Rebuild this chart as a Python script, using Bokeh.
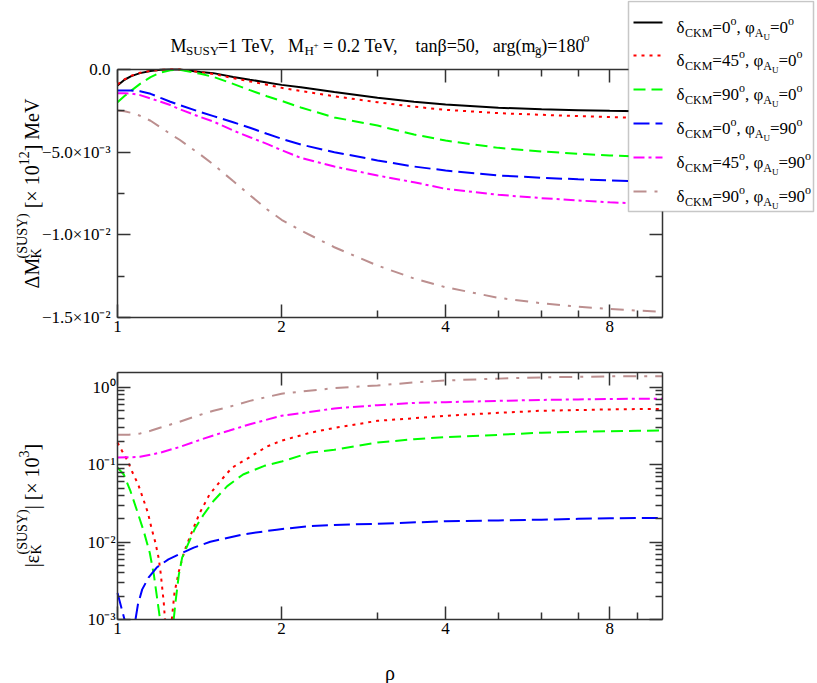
import math
from bokeh.plotting import figure
from bokeh.layouts import column
from bokeh.models import (Range1d, FixedTicker, LinearAxis, LogAxis, Label,
                          BoxAnnotation, Arrow, CustomJSTickFormatter)
from bokeh.embed import file_html
from bokeh.resources import INLINE

NAN = float("nan")

# ---------------- data ----------------
RHO_TOP = [1.0, 1.03, 1.06, 1.1, 1.15, 1.2, 1.25, 1.3, 1.42, 1.5, 1.63, 1.75, 1.88,
           2.0, 2.17, 2.5, 3.0, 3.5, 4.0, 5.0, 6.0, 7.0, 8.0, 9.0, 10.0]

DM_D0_P0 = [-0.97e-3, -0.62e-3, -0.40e-3, -0.22e-3, -0.09e-3, -0.02e-3, 0.0, 0.0, -0.15e-3,
            -0.22e-3, -0.45e-3, -0.62e-3, -0.78e-3, -0.93e-3, -1.07e-3, -1.36e-3, -1.71e-3,
            -1.95e-3, -2.12e-3, -2.31e-3, -2.41e-3, -2.46e-3, -2.50e-3, -2.52e-3, -2.53e-3]
DM_D45_P0 = [-0.90e-3, -0.60e-3, -0.38e-3, -0.20e-3, -0.08e-3, -0.02e-3, 0.0, 0.0, -0.16e-3,
             -0.27e-3, -0.52e-3, -0.72e-3, -0.92e-3, -1.11e-3, -1.30e-3, -1.62e-3, -1.98e-3,
             -2.25e-3, -2.44e-3, -2.64e-3, -2.74e-3, -2.82e-3, -2.88e-3, -2.92e-3, -2.95e-3]
DM_D90_P0 = [-1.98e-3, -1.60e-3, -1.28e-3, -0.87e-3, -0.46e-3, -0.18e-3, -0.05e-3, -0.01e-3,
             -0.26e-3, -0.45e-3, -0.87e-3, -1.25e-3, -1.62e-3, -1.90e-3, -2.30e-3, -2.90e-3,
             -3.39e-3, -3.93e-3, -4.30e-3, -4.74e-3, -4.96e-3, -5.10e-3, -5.20e-3, -5.26e-3, -5.30e-3]
DM_D0_P90 = [-1.27e-3, -1.27e-3, -1.27e-3, -1.32e-3, -1.47e-3, -1.72e-3, -1.95e-3, -2.15e-3,
             -2.58e-3, -2.82e-3, -3.19e-3, -3.52e-3, -3.89e-3, -4.19e-3, -4.54e-3, -5.00e-3,
             -5.50e-3, -5.87e-3, -6.11e-3, -6.41e-3, -6.55e-3, -6.64e-3, -6.71e-3, -6.76e-3, -6.80e-3]
DM_D45_P90 = [-1.43e-3, -1.44e-3, -1.46e-3, -1.55e-3, -1.75e-3, -1.95e-3, -2.15e-3, -2.40e-3,
              -2.88e-3, -3.15e-3, -3.69e-3, -4.10e-3, -4.50e-3, -4.88e-3, -5.35e-3, -5.87e-3,
              -6.41e-3, -6.82e-3, -7.22e-3, -7.58e-3, -7.78e-3, -7.92e-3, -8.03e-3, -8.10e-3, -8.15e-3]
DM_D90_P90 = [-2.48e-3, -2.53e-3, -2.62e-3, -2.80e-3, -3.10e-3, -3.50e-3, -3.90e-3, -4.25e-3,
              -5.15e-3, -5.75e-3, -6.75e-3, -7.60e-3, -8.45e-3, -9.09e-3, -9.74e-3, -10.75e-3,
              -11.86e-3, -12.64e-3, -13.17e-3, -13.81e-3, -14.14e-3, -14.35e-3, -14.48e-3,
              -14.58e-3, -14.65e-3]

# |eps_K|: the delta=0, phi=0 curve lies below 1e-3 everywhere (not visible).
# NaN marks the part of a curve that dips below the 1e-3 axis.
RHO_E_D45_P0 = [1.0, 1.02, 1.042, 1.065, 1.091, 1.115, 1.137, 1.155, 1.174, 1.19, 1.2, 1.216,
                1.222, 1.24, 1.258, 1.265, 1.272, 1.296, 1.327, 1.371, 1.416, 1.476, 1.563,
                1.623, 1.75, 1.88, 2.0, 2.26, 2.5, 3.0, 3.5, 4.0, 5.0, 6.0, 7.0, 8.0, 9.0, 10.0]
EPS_D45_P0 = [0.194, 0.15, 0.115, 0.08, 0.056, 0.036, 0.024, 0.015, 0.0098, 0.0062, 0.004,
              0.00164, 0.001, NAN, 0.001, 0.0015, 0.0022, 0.0042, 0.0077, 0.0139, 0.024,
              0.0416, 0.068, 0.092, 0.126, 0.172, 0.205, 0.26, 0.30, 0.37, 0.40, 0.43, 0.47,
              0.50, 0.51, 0.52, 0.525, 0.525]

RHO_E_D90_P0 = [1.0, 1.027, 1.056, 1.087, 1.117, 1.146, 1.166, 1.182, 1.197, 1.235, 1.268,
                1.278, 1.296, 1.314, 1.346, 1.39, 1.44, 1.5, 1.59, 1.7, 1.86, 2.0, 2.26,
                2.5, 3.0, 3.5, 4.0, 5.0, 6.0, 7.0, 8.0, 9.0, 10.0]
EPS_D90_P0 = [0.092, 0.075, 0.046, 0.025, 0.0139, 0.0073, 0.0038, 0.0019, 0.001, NAN,
              0.001, 0.0017, 0.0038, 0.0063, 0.0093, 0.0154, 0.0229, 0.034, 0.053, 0.075,
              0.097, 0.11, 0.144, 0.156, 0.194, 0.214, 0.228, 0.244, 0.26, 0.267, 0.272,
              0.275, 0.277]

RHO_E_D0_P90 = [1.0, 1.02, 1.03, 1.05, 1.079, 1.09, 1.11, 1.14, 1.18, 1.24, 1.305, 1.38,
                1.48, 1.7, 1.96, 2.26, 2.5, 3.0, 4.0, 5.0, 6.0, 7.0, 8.0, 9.0, 10.0]
EPS_D0_P90 = [0.0022, 0.0013, 0.001, NAN, 0.001, 0.00156, 0.00245, 0.00347, 0.0047, 0.006,
              0.0071, 0.0085, 0.0101, 0.0126, 0.0145, 0.0162, 0.0167, 0.0173, 0.0186, 0.0191,
              0.0195, 0.0200, 0.0204, 0.0205, 0.0205]

RHO_E_P90 = [1.0, 1.05, 1.1, 1.15, 1.2, 1.3, 1.4, 1.5, 1.6, 1.75, 2.0, 2.5, 3.0, 3.5, 4.0,
             5.0, 6.0, 7.0, 8.0, 9.0, 10.0]
EPS_D45_P90 = [0.124, 0.125, 0.127, 0.135, 0.144, 0.17, 0.204, 0.24, 0.275, 0.335, 0.43,
               0.535, 0.59, 0.63, 0.645, 0.67, 0.69, 0.70, 0.71, 0.715, 0.715]
EPS_D90_P90 = [0.244, 0.245, 0.254, 0.275, 0.303, 0.36, 0.43, 0.50, 0.56, 0.67, 0.83, 0.98,
               1.06, 1.16, 1.23, 1.30, 1.35, 1.37, 1.39, 1.40, 1.40]

DELTA_CKM = ["0", "45", "90", "0", "45", "90"]
PHI_AU = ["0", "0", "0", "90", "90", "90"]

X_TICKS = [1, 2, 4, 8]
X_TICK_LABELS = ["1", "2", "4", "8"]
X_MINOR = [3, 5, 6, 7, 9]
YT_TICKS = [0.0, -0.005, -0.01, -0.015]
YT_TICK_LABELS = ["0.0", "\u22125.0\u00d710\u207b\u00b3", "\u22121.0\u00d710\u207b\u00b2",
                  "\u22121.5\u00d710\u207b\u00b2"]
YT_MINOR = [-0.0025, -0.0075, -0.0125]
YB_TICKS = [0.001, 0.01, 0.1, 1.0]
YB_TICK_LABELS = ["10\u207b\u00b3", "10\u207b\u00b2", "10\u207b\u00b9", "10\u2070"]

# ---------------- styles / geometry ----------------
COLORS = ["#000000", "#ff0000", "#00ff00", "#0000ff", "#ff00ff", "#bc8f8f"]
DASHES = ["solid", "3 5", "12 6", "16 6", "11 4 3 4", "13 8 3 8"]
LW = 2
FONT = "Liberation Serif"
AX = "#333333"
W_PAGE, H_PAGE = 817, 683
TOP_H = 352
BOT_H = H_PAGE - TOP_H
FX0, FX1 = 117, 662            # plot box left/right (px)
TY0, TY1 = 69, 317             # top plot box top/bottom (px, page)
BY0, BY1 = 372, 619            # bottom plot box top/bottom (px, page)
X_LO, X_HI = 1.0, 10.0
YT_LO, YT_HI = -0.015, 0.0
YB_LO, YB_HI = 1e-3, 1.56

W = {' ': 250, '\u00a0': 250, '\u200a': 200, '=': 564, ',': 250, '.': 250, '+': 564,
     '(': 333, ')': 333, '[': 333, ']': 333, '|': 200, '\u00d7': 564, 'M': 889, 'S': 556,
     'U': 722, 'Y': 722, 'T': 611, 'e': 444, 'V': 722, 'H': 722, 't': 278, 'a': 444,
     'n': 500, 'r': 333, 'g': 500, 'm': 778, 'o': 500, 'C': 667, 'K': 722, 'A': 722,
     '\u03b4': 500, '\u03c6': 580, '\u03b2': 500, '\u0394': 612, '\u03b5': 440,
     '\u03c1': 500, '~': 541}


def tw(s, size, factor=1.0):
    return sum(W.get(c, 500) for c in s) * size / 1000.0 * factor


def P(t, s, dy=0, adv=True):
    return (t.replace(" ", "\u00a0"), s, dy, adv)


def fmt(ticks, labels):
    keys = [f"{v:.6f}" for v in ticks]
    return CustomJSTickFormatter(
        args=dict(keys=keys, labels=labels),
        code="const i = keys.indexOf(tick.toFixed(6)); return i >= 0 ? labels[i] : '';")


def empty_fmt():
    return CustomJSTickFormatter(code="return '';")


def style_axis(ax, ticker, formatter, loc, bounds, standoff=5):
    ax.ticker = ticker
    ax.formatter = formatter
    ax.fixed_location = loc
    ax.bounds = bounds
    ax.axis_line_color = AX
    ax.axis_line_width = 1.5
    ax.major_tick_line_color = AX
    ax.minor_tick_line_color = AX
    ax.major_tick_line_width = 1.5
    ax.minor_tick_line_width = 1.5
    ax.major_tick_in = 13
    ax.major_tick_out = 0
    ax.minor_tick_in = 7
    ax.minor_tick_out = 0
    ax.major_label_text_font = FONT
    ax.major_label_text_font_size = "17px"
    ax.major_label_text_color = "black"
    ax.major_label_standoff = standoff


# x mapping (log): 1 at FX0, 10 at FX1, frame spans the whole canvas width
dec_x = FX1 - FX0
x_range = Range1d(10 ** (-FX0 / dec_x), 10 ** ((W_PAGE - FX0) / dec_x))


def base_fig(height, ylog, yr):
    p = figure(width=W_PAGE, height=height, x_axis_type="log",
               y_axis_type="log" if ylog else "linear",
               x_range=x_range, y_range=yr, output_backend="svg",
               toolbar_location=None, min_border=0,
               background_fill_color="white", border_fill_color="white")
    p.outline_line_color = None
    p.grid.visible = False
    return p


def add_axes(p, ylog, ylo, yhi, yticker, yfmt, ystandoff):
    xt = FixedTicker(ticks=X_TICKS, minor_ticks=X_MINOR)
    style_axis(p.below[0], xt, fmt(X_TICKS, X_TICK_LABELS), ylo, (X_LO, X_HI), 3)
    style_axis(p.left[0], yticker, yfmt, X_LO, (ylo, yhi), ystandoff)
    top_ax = LogAxis()
    style_axis(top_ax, xt, empty_fmt(), yhi, (X_LO, X_HI), 0)
    p.add_layout(top_ax, "above")
    right_ax = LogAxis() if ylog else LinearAxis()
    style_axis(right_ax, yticker, empty_fmt(), X_HI, (ylo, yhi), 0)
    p.add_layout(right_ax, "right")


# ---------------- top panel ----------------
k_top = (TY1 - TY0) / (YT_HI - YT_LO)
top = base_fig(TOP_H, False, Range1d(YT_HI - (TOP_H - TY0) / k_top, YT_HI + TY0 / k_top))
top_series = [DM_D0_P0, DM_D45_P0, DM_D90_P0, DM_D0_P90, DM_D45_P90, DM_D90_P90]
for ys, c, d in zip(top_series, COLORS, DASHES):
    top.line(RHO_TOP, ys, line_color=c, line_width=LW, line_dash=d)
add_axes(top, False, YT_LO, YT_HI, FixedTicker(ticks=YT_TICKS, minor_ticks=YT_MINOR),
         fmt(YT_TICKS, YT_TICK_LABELS), 7)

# ---------------- bottom panel ----------------
dec_y = (BY1 - BY0) / math.log10(YB_HI / YB_LO)
b0, b1 = BY0 - TOP_H, BY1 - TOP_H
bot = base_fig(BOT_H, True, Range1d(10 ** (math.log10(YB_LO) - (BOT_H - b1) / dec_y),
                                    10 ** (math.log10(YB_HI) + b0 / dec_y)))
bot_series = [(RHO_E_D45_P0, EPS_D45_P0, 1), (RHO_E_D90_P0, EPS_D90_P0, 2),
              (RHO_E_D0_P90, EPS_D0_P90, 3), (RHO_E_P90, EPS_D45_P90, 4),
              (RHO_E_P90, EPS_D90_P90, 5)]
for xs, ys, i in bot_series:
    bot.line(xs, ys, line_color=COLORS[i], line_width=LW, line_dash=DASHES[i])
add_axes(bot, True, YB_LO, YB_HI,
         FixedTicker(ticks=YB_TICKS,
                     minor_ticks=[k * 10.0 ** e for e in (-3, -2, -1) for k in range(2, 10)]),
         fmt(YB_TICKS, YB_TICK_LABELS), 2)


def put_text(fig, base, x, y, parts, rotate=False, center=False, factor=1.0):
    total = sum(tw(t, s, factor) for t, s, dy, adv in parts if adv)
    if not rotate:
        cx = x - total / 2 if center else x
        for t, s, dy, adv in parts:
            fig.add_layout(Label(x=cx, y=base - (y - dy), x_units="screen", y_units="screen",
                                 text=t, text_font=FONT, text_font_size=f"{s}px",
                                 text_color="black", text_align="left",
                                 text_baseline="alphabetic"))
            if adv:
                cx += tw(t, s, factor)
    else:
        cy = y + total / 2 if center else y
        for t, s, dy, adv in parts:
            fig.add_layout(Label(x=x - dy, y=base - cy, x_units="screen", y_units="screen",
                                 text=t, text_font=FONT, text_font_size=f"{s}px",
                                 text_color="black", text_align="left",
                                 text_baseline="alphabetic", angle=math.pi / 2))
            if adv:
                cy -= tw(t, s, factor)


# title
put_text(top, TOP_H, 170, 45, [
    P("M", 18), P("SUSY", 13, -5), P("=1 TeV,   M", 18), P("H", 13, -5), P("+", 9, 1),
    P(" = 0.2 TeV,    tan\u03b2=50,   arg(m\u200a", 18), P("~", 11, -1, False),
    P("g", 13, -5), P(")=180", 18), P("o", 13, 8)], factor=0.965)

# y labels
put_text(top, TOP_H, 31, 193, [
    P("\u0394M", 20), P("K", 14, -5, False), P("(SUSY)", 14, 9), P(" [\u00d7 10", 20),
    P("12", 14, 8), P("] MeV", 20)], rotate=True, center=True)
put_text(bot, H_PAGE, 31, 505, [
    P("|\u03b5", 20), P("K", 14, -5, False), P("(SUSY)", 14, 9), P("| [\u00d7 10", 20),
    P("3", 14, 8), P("]", 20)], rotate=True, center=True)

# x label
put_text(bot, H_PAGE, 389.5, 672, [P("\u03c1", 20)], center=True)

# legend
top.add_layout(BoxAnnotation(left=628, right=813, top=TOP_H - 1, bottom=TOP_H - 211,
                             left_units="screen", right_units="screen",
                             top_units="screen", bottom_units="screen",
                             fill_color="white", fill_alpha=1.0, line_color="#444444",
                             line_width=1.5))
rows = [22, 55, 89, 123, 157, 191]
for i, ry in enumerate(rows):
    top.add_layout(Arrow(end=None, x_start=633, y_start=TOP_H - ry, x_end=662,
                         y_end=TOP_H - ry, start_units="screen", end_units="screen",
                         line_color=COLORS[i], line_width=LW, line_dash=DASHES[i]))
    put_text(top, TOP_H, 676, ry + 5, [
        P("\u03b4", 17), P("CKM", 12, -5), P("=" + DELTA_CKM[i], 17), P("o", 12, 7),
        P(", \u03c6", 17), P("A", 12, -5), P("U", 9, -9), P("=" + PHI_AU[i], 17), P("o", 12, 7)])

layout = column(top, bot)
open("out.html", "w").write(file_html(layout, INLINE))
